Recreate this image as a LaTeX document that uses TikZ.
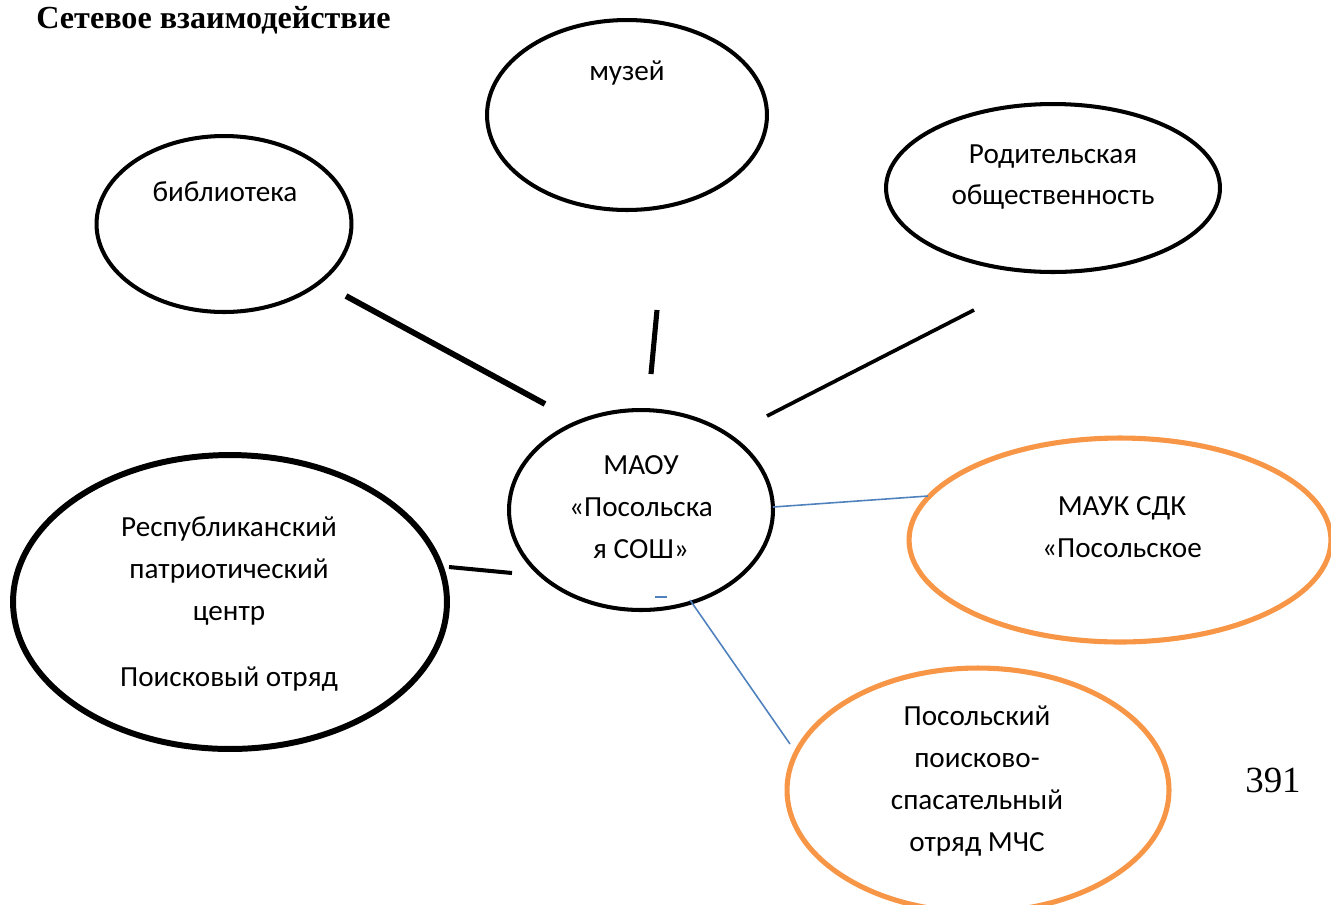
\documentclass[tikz,border=0pt]{standalone}
\usepackage{fontspec}
\setmainfont{Carlito}
\newfontfamily\tnr{Liberation Serif}
\usetikzlibrary{shapes.geometric}
\definecolor{orng}{HTML}{F79646}
\definecolor{blu}{HTML}{4F81BD}
\tikzset{
  bub/.style={ellipse, draw=black, line width=2.3pt, inner sep=0pt},
  bubthick/.style={bub, line width=3.4pt},
  bubor/.style={bub, draw=orng, line width=2.9pt},
  txt/.style={align=center, font=\fontsize{16.6}{23.8}\selectfont, inner sep=0pt},
  link/.style={draw=black, line width=2.8pt},
  bluelink/.style={draw=blu, line width=0.9pt}
}
\begin{document}
\begin{tikzpicture}[x=0.02cm,y=-0.02cm]
\useasboundingbox (0,0) rectangle (1331,904);
% title
\node[anchor=base west, font=\tnr\bfseries\fontsize{18.3}{20}\selectfont, inner sep=0pt] (title) at (36,28) {Сетевое взаимодействие};
% ellipses
\node[bub, minimum width=5.6cm, minimum height=3.8cm] (museum) at (627,115) {};
\node[bub, minimum width=5.1cm, minimum height=3.52cm] (lib) at (224,224) {};
\node[bub, minimum width=6.68cm, minimum height=3.36cm] (parent) at (1053,188) {};
\node[bub, minimum width=5.28cm, minimum height=4.0cm] (maou) at (641,510) {};
\node[bubthick, minimum width=8.68cm, minimum height=5.88cm] (rep) at (230,602) {};
\node[bubor, minimum width=8.44cm, minimum height=4.08cm] (mauk) at (1120,540) {};
\node[bubor, minimum width=7.64cm, minimum height=4.88cm] (pos) at (978,790) {};
% texts
\node[txt] (museumT) at (627,73) {музей};
\node[txt] (libT) at (225,192) {библиотека};
\node[txt] (parentT) at (1053,177) {Родительская\\общественность};
\node[txt] (maouT) at (641,507) {МАОУ\\«Посольска\\я СОШ»};
\node[txt] (repT) at (229,604) {Республиканский\\патриотический\\центр\\[13.5pt]Поисковый отряд};
\node[txt] (maukT) at (1122,527) {МАУК СДК\\«Посольское};
\node[txt] (posT) at (977,781) {Посольский\\поисково-\\спасательный\\отряд МЧС};
\node[anchor=base, font=\tnr\fontsize{21}{24}\selectfont, inner sep=0pt] (page) at (1273,792) {391};
% connector end points
\coordinate (l1a) at (346,296); \coordinate (l1b) at (545,404);
\coordinate (l2a) at (657,310); \coordinate (l2b) at (651,374);
\coordinate (l3a) at (974,310); \coordinate (l3b) at (767,416);
\coordinate (l4a) at (449,567); \coordinate (l4b) at (512,573);
\coordinate (b1a) at (773,507); \coordinate (b1b) at (928,496);
\coordinate (b2a) at (690,600); \coordinate (b2b) at (790,744);
\coordinate (b3a) at (655,597); \coordinate (b3b) at (667,597);
% connectors
\draw[link, line width=3.3pt] (l1a) -- (l1b);
\draw[link, line width=2.9pt] (l2a) -- (l2b);
\draw[link, line width=2.1pt] (l3a) -- (l3b);
\draw[link, line width=2.3pt] (l4a) -- (l4b);
\draw[bluelink] (b1a) -- (b1b);
\draw[bluelink] (b2a) -- (b2b);
\draw[bluelink] (b3a) -- (b3b);
\end{tikzpicture}
\end{document}
